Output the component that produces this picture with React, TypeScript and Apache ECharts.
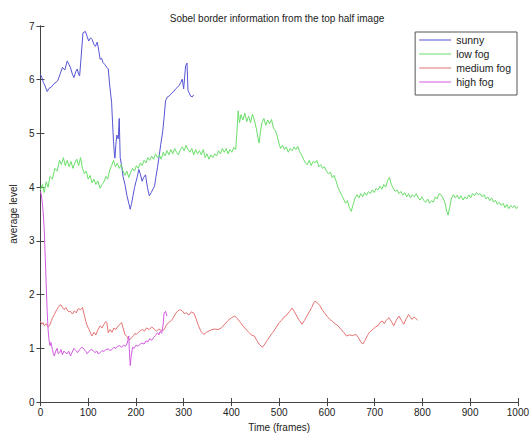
import React, { useEffect, useRef } from "react";
import * as echarts from "echarts";

const titleText = "Sobel border information from the top half image";
const xName = "Time (frames)";
const yName = "average level";
const seriesNames = ["sunny", "low fog", "medium fog", "high fog"];
const seriesColors = ["#5555d6", "#6ade6a", "#e47272", "#d25ae0"];

const sunny: number[][] = [
  [0, 6.1], [3, 6.04], [6, 5.95], [9, 5.9], [14, 5.78], [18, 5.84], [22, 5.86], [28, 5.92], [36, 5.98], [41, 6.1],
  [46, 6.23], [51, 6.18], [56, 6.35], [60, 6.28], [63, 6.22], [67, 6.1], [70, 6.04], [74, 6.15], [77, 6.2], [80, 6.1],
  [82, 6.07], [85, 6.4], [89, 6.87], [94, 6.9], [98, 6.8], [101, 6.72], [105, 6.78], [108, 6.75], [112, 6.66], [115, 6.62],
  [119, 6.7], [122, 6.55], [125, 6.38], [128, 6.4], [131, 6.32], [135, 6.28], [139, 6.23], [142, 6.2], [145, 5.9], [149, 5.58],
  [151, 5.2], [153, 4.85], [155, 4.6], [156, 4.54], [158, 4.8], [160, 4.97], [163, 4.9], [165, 5.28], [167, 4.55], [170, 4.4],
  [173, 4.2], [177, 4.05], [181, 3.85], [185, 3.7], [188, 3.59], [191, 3.7], [194, 3.85], [197, 3.99], [200, 4.1], [203, 4.2],
  [206, 4.33], [209, 4.25], [213, 4.11], [216, 4.18], [220, 4.23], [224, 4.0], [228, 3.84], [232, 3.9], [236, 3.97], [239, 4.02],
  [242, 4.2], [245, 4.36], [249, 4.6], [252, 4.8], [256, 5.03], [259, 5.3], [262, 5.61], [266, 5.68], [270, 5.7], [275, 5.75],
  [279, 5.78], [283, 5.83], [287, 5.86], [290, 5.89], [294, 5.95], [297, 6.01], [300, 5.83], [302, 6.05], [304, 6.26], [307, 6.31],
  [309, 5.8], [312, 5.75], [314, 5.7], [318, 5.68], [321, 5.72],
];

const lowFog: number[][] = [
  [0, 3.95], [4, 4.05], [8, 3.9], [12, 4.1], [16, 4.0], [20, 4.2], [25, 4.15], [30, 4.35], [35, 4.3], [40, 4.5],
  [44, 4.42], [48, 4.55], [52, 4.4], [56, 4.5], [60, 4.38], [64, 4.48], [68, 4.35], [72, 4.45], [76, 4.52], [80, 4.4],
  [84, 4.55], [88, 4.35], [92, 4.25], [96, 4.3], [100, 4.15], [104, 4.22], [108, 4.08], [112, 4.15], [116, 4.05], [120, 4.12],
  [125, 3.98], [129, 4.05], [133, 4.1], [137, 4.2], [141, 4.15], [145, 4.32], [149, 4.4], [153, 4.5], [157, 4.38], [161, 4.45],
  [165, 4.35], [169, 4.42], [173, 4.3], [177, 4.22], [181, 4.3], [185, 4.18], [189, 4.28], [193, 4.35], [197, 4.3], [201, 4.4],
  [205, 4.35], [209, 4.45], [213, 4.4], [217, 4.5], [221, 4.45], [225, 4.55], [229, 4.5], [233, 4.58], [237, 4.52], [241, 4.62],
  [245, 4.55], [249, 4.6], [253, 4.52], [257, 4.65], [261, 4.58], [265, 4.68], [269, 4.6], [273, 4.7], [277, 4.62], [281, 4.72],
  [285, 4.65], [289, 4.6], [293, 4.7], [297, 4.75], [301, 4.68], [305, 4.78], [309, 4.7], [313, 4.65], [317, 4.72], [321, 4.6],
  [325, 4.7], [329, 4.62], [333, 4.68], [337, 4.6], [341, 4.7], [345, 4.55], [349, 4.62], [353, 4.52], [357, 4.6], [361, 4.55],
  [365, 4.62], [369, 4.58], [373, 4.68], [377, 4.62], [381, 4.72], [385, 4.65], [389, 4.72], [393, 4.62], [397, 4.7], [401, 4.65],
  [405, 4.74], [409, 4.7], [412, 5.1], [414, 5.42], [417, 5.2], [420, 5.35], [424, 5.25], [428, 5.38], [432, 5.22], [436, 5.32],
  [440, 5.2], [444, 5.36], [448, 5.25], [452, 5.1], [456, 4.9], [458, 4.82], [461, 5.05], [464, 5.2], [468, 5.28], [472, 5.15],
  [476, 5.25], [480, 5.18], [484, 5.26], [488, 5.1], [492, 5.05], [496, 4.95], [500, 4.8], [503, 4.72], [507, 4.78], [511, 4.7],
  [515, 4.75], [519, 4.65], [523, 4.72], [527, 4.68], [531, 4.75], [535, 4.7], [539, 4.76], [543, 4.66], [547, 4.6], [551, 4.52],
  [555, 4.45], [559, 4.42], [563, 4.5], [567, 4.4], [571, 4.48], [575, 4.45], [579, 4.5], [583, 4.38], [587, 4.42], [591, 4.35],
  [595, 4.38], [599, 4.3], [603, 4.25], [607, 4.28], [611, 4.18], [615, 4.22], [619, 4.12], [623, 4.0], [627, 3.92], [631, 3.85],
  [635, 3.78], [639, 3.7], [643, 3.75], [647, 3.62], [651, 3.55], [655, 3.68], [659, 3.8], [663, 3.86], [667, 3.8], [671, 3.88],
  [675, 3.82], [679, 3.9], [683, 3.85], [687, 3.92], [691, 3.88], [695, 3.95], [699, 3.9], [703, 3.98], [707, 3.95], [711, 4.02],
  [715, 3.96], [719, 4.05], [723, 4.0], [727, 4.12], [731, 4.18], [735, 4.05], [739, 3.98], [743, 3.92], [747, 3.95], [751, 3.88],
  [755, 3.92], [759, 3.85], [763, 3.9], [767, 3.82], [771, 3.88], [775, 3.8], [779, 3.86], [783, 3.82], [787, 3.88], [791, 3.8],
  [795, 3.76], [799, 3.82], [803, 3.75], [807, 3.72], [811, 3.78], [815, 3.7], [819, 3.75], [823, 3.72], [827, 3.82], [831, 3.78],
  [835, 3.88], [839, 3.86], [843, 3.8], [847, 3.72], [851, 3.55], [854, 3.48], [857, 3.62], [861, 3.8], [865, 3.86], [869, 3.8],
  [873, 3.85], [877, 3.78], [881, 3.84], [885, 3.76], [889, 3.82], [893, 3.78], [897, 3.86], [901, 3.8], [905, 3.88], [909, 3.84],
  [913, 3.9], [917, 3.86], [921, 3.88], [925, 3.82], [929, 3.86], [933, 3.78], [937, 3.82], [941, 3.75], [945, 3.8], [949, 3.72],
  [953, 3.76], [957, 3.68], [961, 3.72], [965, 3.66], [969, 3.7], [973, 3.62], [977, 3.68], [981, 3.6], [985, 3.66], [989, 3.62],
  [993, 3.66], [997, 3.6], [1000, 3.64],
];

const mediumFog: number[][] = [
  [0, 1.5], [3, 1.45], [5, 1.48], [8, 1.42], [12, 1.46], [16, 1.4], [19, 1.42], [23, 1.52], [26, 1.58], [29, 1.63],
  [33, 1.7], [37, 1.76], [40, 1.8], [43, 1.81], [47, 1.75], [50, 1.72], [53, 1.76], [57, 1.7], [60, 1.68], [63, 1.69],
  [67, 1.64], [71, 1.7], [75, 1.66], [79, 1.74], [84, 1.72], [88, 1.76], [91, 1.65], [95, 1.5], [98, 1.42], [102, 1.35],
  [105, 1.28], [108, 1.23], [112, 1.3], [116, 1.25], [120, 1.34], [125, 1.42], [129, 1.38], [133, 1.45], [137, 1.5], [139, 1.48],
  [142, 1.29], [146, 1.35], [150, 1.3], [154, 1.38], [158, 1.35], [163, 1.42], [167, 1.45], [170, 1.48], [173, 1.38], [177, 1.26],
  [181, 1.22], [184, 1.18], [187, 1.16], [191, 1.2], [195, 1.24], [198, 1.28], [201, 1.26], [205, 1.3], [209, 1.33], [214, 1.35],
  [218, 1.32], [222, 1.38], [228, 1.35], [233, 1.4], [238, 1.36], [243, 1.32], [248, 1.36], [254, 1.33], [259, 1.35], [263, 1.42],
  [268, 1.48], [272, 1.5], [276, 1.54], [280, 1.6], [284, 1.66], [288, 1.7], [293, 1.72], [297, 1.7], [301, 1.65], [306, 1.66],
  [311, 1.62], [316, 1.68], [321, 1.66], [326, 1.55], [331, 1.42], [336, 1.32], [342, 1.26], [348, 1.3], [354, 1.33], [359, 1.35],
  [365, 1.36], [372, 1.35], [379, 1.38], [386, 1.45], [393, 1.52], [400, 1.57], [407, 1.6], [413, 1.55], [419, 1.48], [424, 1.42],
  [430, 1.36], [436, 1.3], [442, 1.25], [448, 1.23], [453, 1.15], [458, 1.08], [465, 1.02], [470, 1.08], [475, 1.15], [481, 1.23],
  [487, 1.3], [493, 1.38], [500, 1.48], [505, 1.52], [510, 1.58], [516, 1.62], [521, 1.68], [527, 1.75], [532, 1.68], [537, 1.6],
  [542, 1.52], [548, 1.45], [553, 1.52], [558, 1.6], [563, 1.68], [568, 1.76], [572, 1.84], [575, 1.88], [578, 1.86], [581, 1.84],
  [585, 1.8], [590, 1.72], [595, 1.66], [600, 1.6], [606, 1.54], [612, 1.5], [617, 1.46], [623, 1.42], [629, 1.36], [635, 1.3],
  [641, 1.23], [647, 1.25], [654, 1.24], [661, 1.26], [666, 1.2], [671, 1.12], [675, 1.08], [680, 1.15], [685, 1.24], [689, 1.3],
  [692, 1.32], [697, 1.36], [702, 1.4], [707, 1.42], [711, 1.48], [716, 1.51], [720, 1.46], [724, 1.52], [730, 1.57], [735, 1.5],
  [740, 1.42], [745, 1.52], [751, 1.6], [756, 1.52], [761, 1.45], [766, 1.55], [771, 1.63], [775, 1.58], [778, 1.54], [782, 1.58],
  [785, 1.57], [790, 1.52],
];

const highFog: number[][] = [
  [0, 3.92], [2, 3.85], [4, 3.7], [6, 3.5], [8, 3.2], [10, 2.7], [12, 2.2], [14, 1.7], [16, 1.35], [18, 1.15],
  [20, 1.05], [22, 1.11], [25, 0.98], [27, 0.9], [29, 0.86], [32, 0.95], [35, 1.0], [37, 0.9], [40, 0.92], [43, 0.98],
  [46, 0.88], [49, 0.95], [52, 0.92], [56, 0.9], [59, 0.95], [63, 0.86], [66, 0.92], [70, 1.0], [74, 0.96], [78, 0.92],
  [82, 0.98], [87, 1.02], [91, 0.99], [95, 0.94], [98, 0.9], [102, 0.95], [106, 0.98], [110, 0.96], [114, 0.92], [118, 0.95],
  [121, 0.9], [125, 0.92], [129, 0.96], [133, 0.94], [137, 0.98], [142, 0.99], [146, 0.96], [150, 0.98], [154, 1.02], [158, 1.0],
  [162, 1.04], [166, 1.05], [170, 1.02], [174, 1.06], [178, 1.04], [181, 1.08], [183, 1.15], [185, 1.23], [186, 1.0], [188, 0.68],
  [190, 0.85], [193, 1.02], [196, 1.0], [200, 1.06], [204, 1.04], [209, 1.08], [213, 1.1], [217, 1.08], [221, 1.14], [225, 1.12],
  [229, 1.18], [233, 1.15], [237, 1.2], [241, 1.24], [245, 1.29], [248, 1.25], [251, 1.32], [254, 1.28], [257, 1.45], [259, 1.66],
  [262, 1.69], [265, 1.6],
];

const seriesData = [sunny, lowFog, mediumFog, highFog];

const FONT = "'Liberation Sans', Arial, sans-serif";
const AXIS_COLOR = "#444";

export default function App() {
  const ref = useRef<HTMLDivElement>(null);
  useEffect(() => {
    if (!ref.current) return;
    const chart = echarts.init(ref.current, null, { renderer: "svg" });
    const tickCommon = { show: true, inside: true, length: 4, lineStyle: { color: AXIS_COLOR } };
    chart.setOption({
      animation: false,
      backgroundColor: "#fff",
      textStyle: { fontFamily: FONT },
      title: {
        text: titleText,
        left: 272,
        top: 8,
        textAlign: "center",
        textStyle: { fontSize: 10, fontWeight: "normal", color: "#222", fontFamily: FONT },
      },
      legend: {
        data: seriesNames,
        orient: "vertical",
        right: 15,
        top: 32,
        padding: [2, 6, 7, 4],
        itemGap: 2,
        itemWidth: 32,
        itemHeight: 1,
        icon: "rect",
        borderColor: "#555",
        borderWidth: 1,
        backgroundColor: "#fff",
        textStyle: { fontSize: 10.5, lineHeight: 12, color: "#222", fontFamily: FONT },
      },
      grid: { left: 36, right: 11, top: 26, bottom: 30, containLabel: false },
      xAxis: [
        {
          type: "value",
          min: 0,
          max: 1000,
          interval: 100,
          name: xName,
          nameLocation: "middle",
          nameGap: 18,
          nameTextStyle: { fontSize: 10, color: "#222", fontFamily: FONT },
          axisLine: { show: true, lineStyle: { color: AXIS_COLOR } },
          axisTick: tickCommon,
          axisLabel: {
            fontSize: 10,
            color: "#222",
            margin: 5,
            fontFamily: FONT,
            formatter: (v: number) => String(v),
          },
          splitLine: { show: false },
        },
        {
          type: "value",
          position: "top",
          min: 0,
          max: 1000,
          interval: 100,
          axisLine: { show: true, lineStyle: { color: AXIS_COLOR } },
          axisTick: tickCommon,
          axisLabel: { show: false },
          splitLine: { show: false },
        },
      ],
      yAxis: [
        {
          type: "value",
          min: 0,
          max: 7,
          interval: 1,
          name: yName,
          nameLocation: "middle",
          nameGap: 18,
          nameTextStyle: { fontSize: 10, color: "#222", fontFamily: FONT },
          axisLine: { show: true, lineStyle: { color: AXIS_COLOR } },
          axisTick: tickCommon,
          axisLabel: { fontSize: 10, color: "#222", margin: 6, fontFamily: FONT },
          splitLine: { show: false },
        },
        {
          type: "value",
          position: "right",
          min: 0,
          max: 7,
          interval: 1,
          axisLine: { show: true, lineStyle: { color: AXIS_COLOR } },
          axisTick: tickCommon,
          axisLabel: { show: false },
          splitLine: { show: false },
        },
      ],
      series: seriesNames.map((name, i) => ({
        name,
        type: "line",
        xAxisIndex: 0,
        yAxisIndex: 0,
        data: seriesData[i],
        symbol: "none",
        showSymbol: false,
        lineStyle: { width: 1, color: seriesColors[i] },
        itemStyle: { color: seriesColors[i] },
        z: 2 + i,
      })),
    });
    return () => chart.dispose();
  }, []);
  return (
    <div
      ref={ref}
      style={{ position: "absolute", left: 0, top: 0, width: 532, height: 437 }}
    />
  );
}
